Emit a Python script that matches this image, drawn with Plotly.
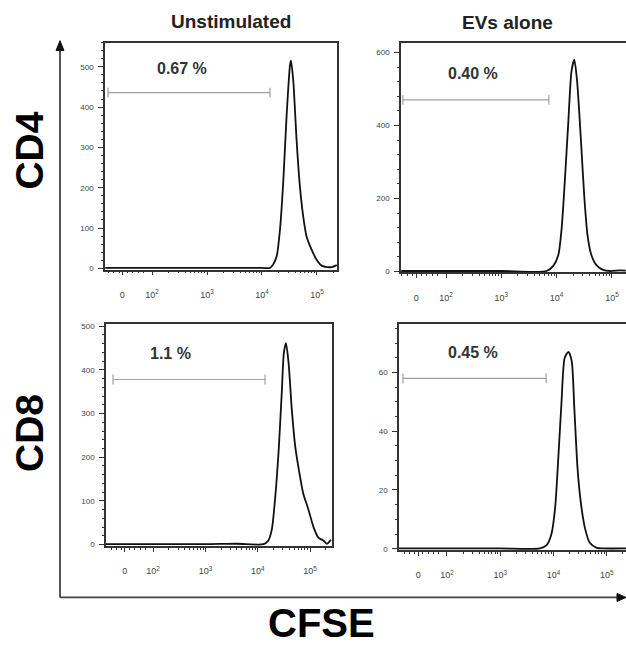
import math
import plotly.graph_objects as go

W, H = 626, 649

# ---- data (x in log10 CFSE intensity, y = cell count) ----
unstim_cd4_x = [1.15, 2.0, 3.0, 4.0, 4.145, 4.205, 4.267, 4.327, 4.388, 4.449, 4.51, 4.527, 4.57, 4.63,
                4.69, 4.75, 4.81, 4.90, 4.99, 5.09, 5.18, 5.27, 5.36]
unstim_cd4_y = [1, 1, 1, 1, 1, 10, 30, 96, 218, 382, 505, 515, 463, 316,
                202, 128, 79, 47, 22, 6, 3, 3, 8]

evs_cd4_x = [1.19, 2.0, 3.0, 3.82, 3.94, 4.03, 4.09, 4.15, 4.21, 4.27, 4.32, 4.37, 4.44,
             4.50, 4.56, 4.63, 4.72, 4.84, 4.97, 5.15, 5.25]
evs_cd4_y = [1, 1, 1, 1, 15, 44, 116, 251, 405, 549, 580, 522, 360,
             206, 98, 44, 17, 4, 1, 3, 2]

unstim_cd8_x = [1.10, 2.0, 3.0, 3.6, 4.11, 4.20, 4.27, 4.33, 4.40, 4.46, 4.50, 4.54, 4.59, 4.65,
                4.72, 4.80, 4.87, 4.97, 5.07, 5.16, 5.26, 5.32, 5.40]
unstim_cd8_y = [1, 1, 1, 2, 1, 9, 35, 102, 215, 349, 439, 461, 416, 312,
                222, 162, 117, 80, 39, 16, 9, 2, 11]

evs_cd8_x = [1.10, 2.0, 3.0, 3.745, 3.87, 3.96, 4.03, 4.09, 4.15, 4.21, 4.28, 4.34, 4.39,
             4.45, 4.51, 4.59, 4.68, 4.81, 4.93, 5.36]
evs_cd8_y = [0.1, 0.1, 0.1, 0.1, 1.2, 4.9, 14, 31, 50, 65, 67, 64, 48,
             27.5, 16, 7, 2, 0.3, 0.1, 0.1]

gate_x = [[1.20, 4.145], [1.22, 3.86], [1.235, 4.14], [1.175, 3.86]]
gate_y = [436, 470, 378, 58]
gate_labels = ["0.67 %", "0.40 %", "1.1 %", "0.45 %"]
label_x = [2.55, 2.49, 2.33, 2.49]
label_y = [495, 543, 437, 66.8]

col_titles = ["Unstimulated", "EVs alone"]
row_titles = ["CD4", "CD8"]
x_title = "CFSE"

x_tickvals = [1.46, 2, 3, 4, 5]
x_ticktext = ["0", "10<sup>2</sup>", "10<sup>3</sup>", "10<sup>4</sup>", "10<sup>5</sup>"]

# ---- layout geometry (pixels) ----
def px(x):
    return x / W

def py(y):
    return 1 - y / H

panels = [
    dict(xs=unstim_cd4_x, ys=unstim_cd4_y, box=(105, 337, 41, 270), xr=[1.145, 5.364], yr=[-3, 560], dt=100, mdt=20, right=True),
    dict(xs=evs_cd4_x, ys=evs_cd4_y, box=(401, 626, 41, 273), xr=[1.186, 5.255], yr=[-3, 627], dt=200, mdt=40, right=False),
    dict(xs=unstim_cd8_x, ys=unstim_cd8_y, box=(106, 332, 325, 549), xr=[1.10, 5.42], yr=[-3, 505], dt=100, mdt=20, right=True),
    dict(xs=evs_cd8_x, ys=evs_cd8_y, box=(399, 626, 325, 553), xr=[1.10, 5.36], yr=[-0.4, 76.5], dt=20, mdt=5, right=False),
]

minor_x = [1.2, 1.3, 1.4, 1.55, 1.65, 1.75, 1.85]
for d in [2, 3, 4, 5]:
    for k in range(2, 10):
        v = d + math.log10(k)
        if v < 5.45:
            minor_x.append(v)

FONT = "Liberation Sans, Arial, sans-serif"
AX_COL = "#333333"

fig = go.Figure()
layout = dict(
    width=W, height=H, margin=dict(l=0, r=0, t=0, b=0),
    paper_bgcolor="white", plot_bgcolor="white", showlegend=False,
    font=dict(family=FONT, color="#444444", size=8),
)

annotations = []
for i, p in enumerate(panels):
    n = "" if i == 0 else str(i + 1)
    xa, ya = "x" + n, "y" + n
    x0, x1, y0, y1 = p["box"]
    fig.add_trace(go.Scatter(x=p["xs"], y=p["ys"], xaxis=xa, yaxis=ya, mode="lines",
                             line=dict(color="#111111", width=1.8, shape="spline", smoothing=0.7),
                             hoverinfo="skip"))
    fig.add_trace(go.Scatter(x=gate_x[i], y=[gate_y[i], gate_y[i]], xaxis=xa, yaxis=ya,
                             mode="lines+markers",
                             line=dict(color="#a0a0a0", width=1.2),
                             marker=dict(symbol="line-ns-open", size=7, line=dict(color="#a0a0a0", width=1.2)),
                             hoverinfo="skip"))
    annotations.append(dict(x=label_x[i], y=label_y[i], xref=xa, yref=ya, text=gate_labels[i],
                            xanchor="center", yanchor="middle",
                            showarrow=False, font=dict(family=FONT, size=16, color="#333333", weight="bold")))
    layout["xaxis" + n] = dict(
        domain=[px(x0), min(px(x1), 1.0)], anchor=ya, range=p["xr"],
        tickmode="array", tickvals=x_tickvals, ticktext=x_ticktext,
        showline=True, linecolor=AX_COL, linewidth=1.5, mirror=True,
        ticks="outside", ticklen=4, tickcolor=AX_COL, tickwidth=1,
        minor=dict(tickvals=minor_x, ticks="outside", ticklen=2, tickcolor=AX_COL),
        showgrid=False, zeroline=False, ticklabelstandoff=12,
        tickfont=dict(size=9, color="#444444"),
    )
    layout["yaxis" + n] = dict(
        domain=[py(y1), py(y0)], anchor=xa, range=p["yr"],
        dtick=p["dt"], tick0=0,
        showline=True, linecolor=AX_COL, linewidth=1.5, mirror=p["right"],
        ticks="outside", ticklen=5, tickcolor=AX_COL, tickwidth=1,
        minor=dict(dtick=p["mdt"], ticks="outside", ticklen=2, tickcolor=AX_COL),
        showgrid=False, zeroline=False, ticklabelstandoff=3,
        tickfont=dict(size=8, color="#444444"),
    )

def add_text(x, y, text, size, color, angle=0):
    annotations.append(dict(x=px(x), y=py(y), xref="paper", yref="paper", text=text, showarrow=False,
                            xanchor="center", yanchor="middle", textangle=angle,
                            font=dict(family=FONT, size=size, color=color, weight="bold")))

# column titles
add_text(231, 20, col_titles[0], 19, "#222222")
add_text(507, 21, col_titles[1], 19, "#222222")
# row titles
add_text(30, 150, row_titles[0], 39, "#000000", -90)
add_text(30, 435, row_titles[1], 39, "#000000", -90)
# x title
add_text(321, 627, x_title, 40, "#000000")
layout["annotations"] = annotations

# outer arrows
shapes = [
    dict(type="line", xref="paper", yref="paper", x0=px(60), x1=px(60), y0=py(601), y1=py(46),
         line=dict(color="#444444", width=1.8)),
    dict(type="line", xref="paper", yref="paper", x0=px(60), x1=px(618), y0=py(601), y1=py(601),
         line=dict(color="#444444", width=1.8)),
    dict(type="path", xref="paper", yref="paper",
         path=f"M {px(56)} {py(49)} L {px(64)} {py(49)} L {px(60)} {py(39)} Z",
         fillcolor="#111111", line=dict(color="#111111", width=1)),
    dict(type="path", xref="paper", yref="paper",
         path=f"M {px(617)} {py(597)} L {px(617)} {py(605)} L {px(626)} {py(601)} Z",
         fillcolor="#111111", line=dict(color="#111111", width=1)),
]
layout["shapes"] = shapes

fig.update_layout(**layout)
fig.write_html("out.html", config={"displayModeBar": False},
               post_script="document.body.style.margin='0px';document.body.style.overflow='hidden';")
